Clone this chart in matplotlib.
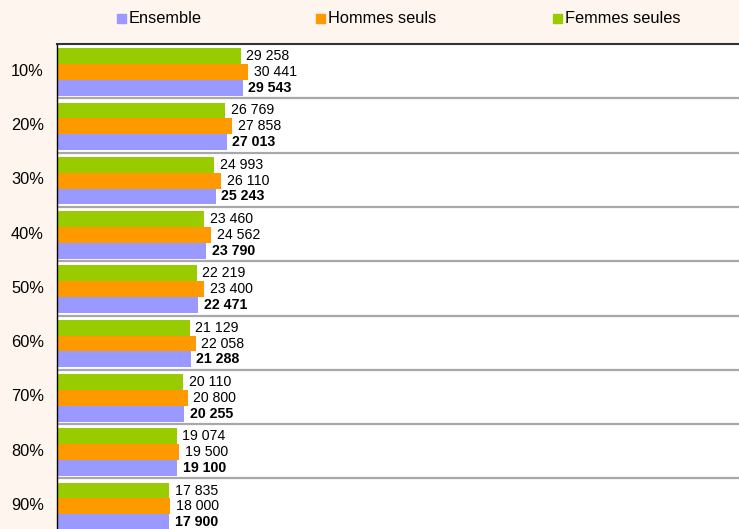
import matplotlib
matplotlib.use("Agg")
import matplotlib.pyplot as plt
from matplotlib.patches import Rectangle

plt.rcParams['font.family'] = ['Liberation Sans', 'DejaVu Sans']

categories = ["10%", "20%", "30%", "40%", "50%", "60%", "70%", "80%", "90%"]
series_names = ["Femmes seules", "Hommes seuls", "Ensemble"]
femmes = [29258, 26769, 24993, 23460, 22219, 21129, 20110, 19074, 17835]
hommes = [30441, 27858, 26110, 24562, 23400, 22058, 20800, 19500, 18000]
ensemble = [29543, 27013, 25243, 23790, 22471, 21288, 20255, 19100, 17900]
colors = {"Femmes seules": "#99CC00", "Hommes seuls": "#FF9900", "Ensemble": "#9999FF"}

W, H = 739, 529
fig = plt.figure(figsize=(W / 100, H / 100), dpi=100)
fig.patch.set_facecolor("#FEF6EE")

left_px, top_px, right_px = 57, 44, 741
group_px = 54.3
bottom_px = top_px + group_px * len(categories)
ax = fig.add_axes([left_px / W, 1 - bottom_px / H, (right_px - left_px) / W, (bottom_px - top_px) / H])
ax.set_facecolor("white")

xmax = (right_px - left_px) / 0.00628
ax.set_xlim(0, xmax)
ax.set_ylim(len(categories) - 0.5, -0.5)

def fmt(v):
    return f"{v:,}".replace(",", " ")

h = 0.292
shift = 0.016
offsets = {"Femmes seules": -h + shift, "Hommes seuls": shift, "Ensemble": h + shift}
data = {"Femmes seules": femmes, "Hommes seuls": hommes, "Ensemble": ensemble}
for name in series_names:
    ys = [i + offsets[name] for i in range(len(categories))]
    vals = data[name]
    ax.barh(ys, vals, height=h, color=colors[name], zorder=2)
    for y, v in zip(ys, vals):
        ax.annotate(fmt(v), (v, y), xytext=(4, 0), textcoords="offset points",
                    va="center", ha="left", fontsize=10.2,
                    fontweight="bold" if name == "Ensemble" else "normal",
                    color="black", annotation_clip=False)

for i in range(len(categories) - 1):
    ax.axhline(i + 0.5, color="#A8A8A8", lw=1.6, zorder=1)

ax.set_yticks(range(len(categories)))
ax.set_yticklabels(categories, fontsize=11.8, va="center")
ax.tick_params(axis="y", length=0, pad=9.4)
ax.set_xticks([])
for s in ["right", "bottom"]:
    ax.spines[s].set_visible(False)
ax.spines["top"].set_color("#333333")
ax.spines["top"].set_linewidth(1.5)
ax.spines["left"].set_color("black")
ax.spines["left"].set_linewidth(1.0)

# legend
leg = [("Ensemble", 117), ("Hommes seuls", 316), ("Femmes seules", 553)]
for name, x in leg:
    fig.patches.append(Rectangle((x / W, 1 - 23 / H), 9 / W, 9 / H,
                                 transform=fig.transFigure, color=colors[name]))
    fig.text((x + 12) / W, 1 - 18.5 / H, name, fontsize=11.8, va="center", ha="left")

fig.savefig("out.png", dpi=100, facecolor=fig.get_facecolor())
